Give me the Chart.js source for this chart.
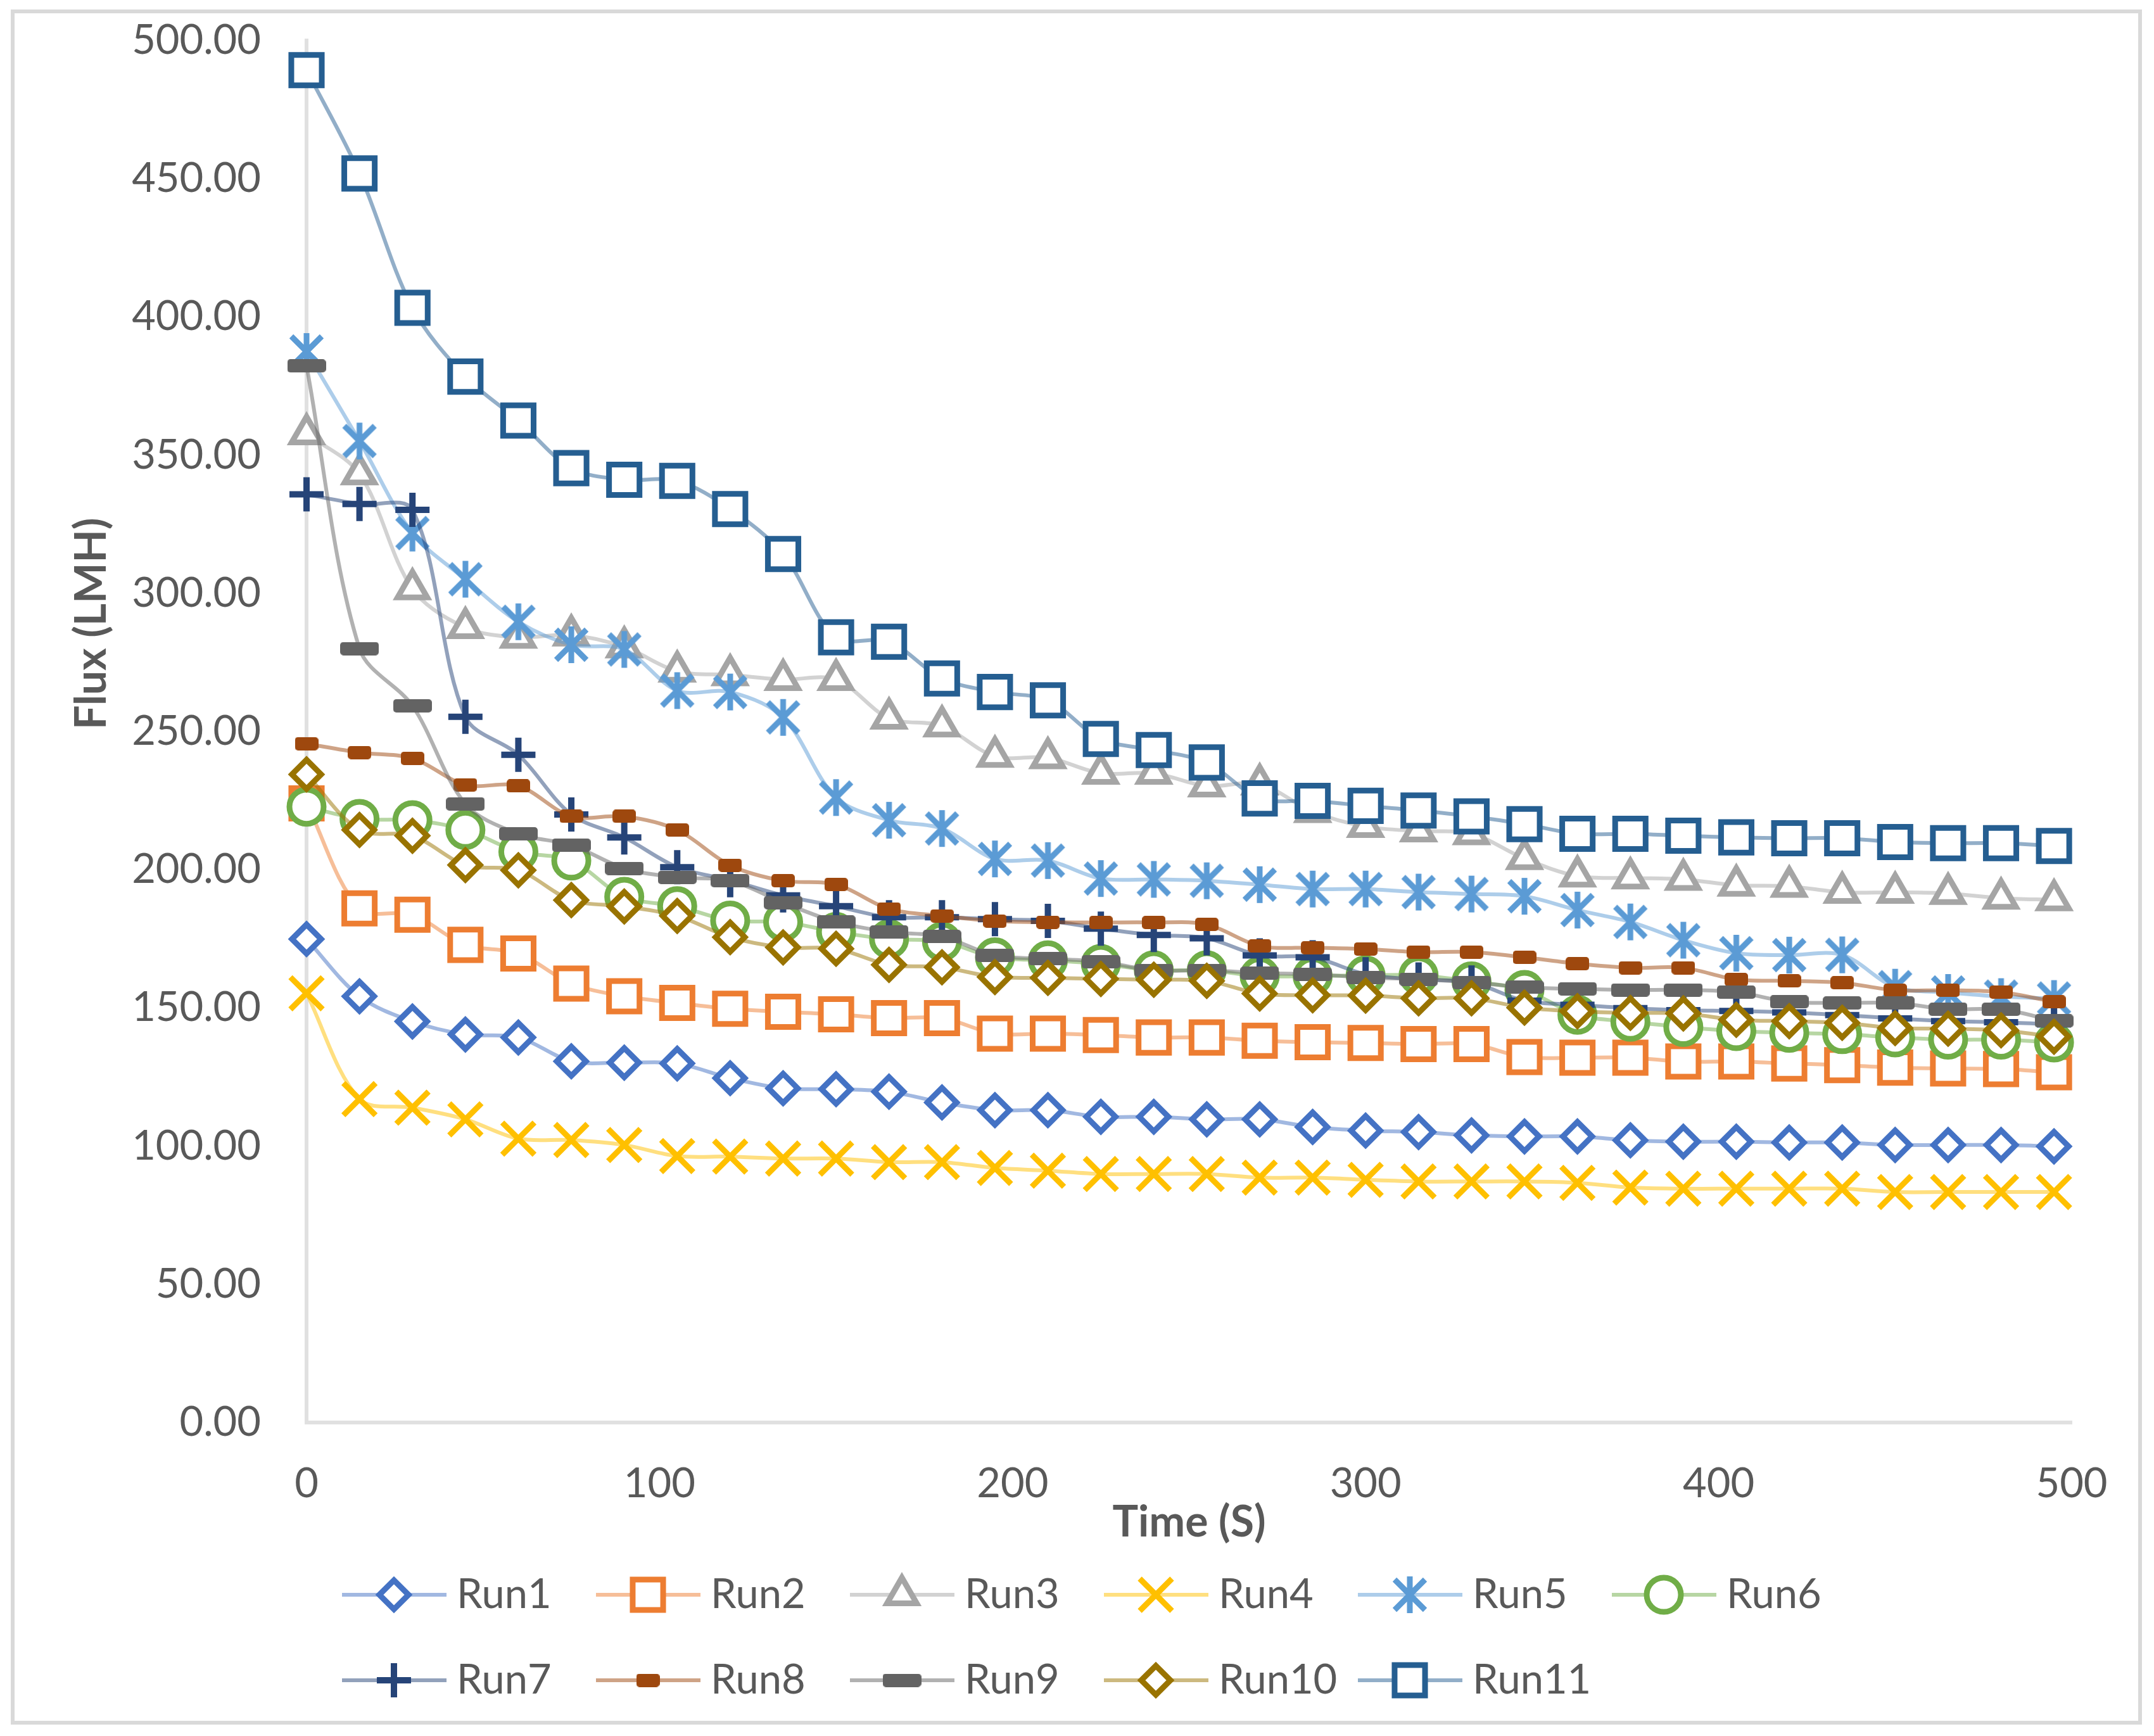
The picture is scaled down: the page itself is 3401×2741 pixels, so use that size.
<!DOCTYPE html>
<html>
<head>
<meta charset="utf-8">
<title>Flux (LMH) vs Time (S)</title>
<script src="https://cdn.jsdelivr.net/npm/chart.js"></script>
<style>
  html, body { margin: 0; padding: 0; background: #ffffff; }
  #flux-chart { display: block; }
</style>
</head>
<body>
<canvas id="flux-chart" width="3401" height="2741"></canvas>
<script>
var TIMES = [0, 15, 30, 45, 60, 75, 90, 105, 120, 135, 150, 165, 180, 195, 210, 225, 240,
             255, 270, 285, 300, 315, 330, 345, 360, 375, 390, 405, 420, 435, 450, 465, 480, 495];

var RUN_LABELS = ['Run1', 'Run2', 'Run3', 'Run4', 'Run5', 'Run6', 'Run7', 'Run8', 'Run9', 'Run10', 'Run11'];

var RUN1 = [174.9, 154.2, 145.1, 140.4, 139.3, 130.7, 130.2, 129.9, 124.6, 120.9, 120.6, 119.7, 115.8, 113.0, 113.0, 110.6, 110.6,
            109.7, 109.7, 106.9, 105.6, 105.1, 103.9, 103.5, 103.5, 102.1, 101.6, 101.6, 101.3, 101.3, 100.4, 100.4, 100.4, 99.9];
var RUN2 = [224.0, 186.0, 183.7, 172.8, 169.7, 158.8, 154.2, 151.8, 149.7, 148.6, 147.7, 146.3, 146.3, 140.7, 140.7, 140.2, 139.3,
            139.3, 138.1, 137.6, 137.3, 136.9, 136.9, 132.2, 132.0, 132.0, 130.6, 130.6, 129.9, 129.3, 128.4, 128.1, 127.9, 126.7];
var RUN3 = [357.7, 343.2, 301.6, 287.6, 284.1, 284.9, 280.6, 271.8, 270.5, 268.8, 268.8, 254.8, 252.0, 241.0, 240.5, 234.9, 234.9,
            230.3, 231.0, 221.0, 215.6, 214.0, 213.0, 204.0, 197.7, 197.0, 196.5, 194.4, 194.0, 191.8, 191.8, 191.4, 189.7, 189.1];
var RUN4 = [155.3, 117.0, 113.9, 109.7, 102.7, 102.2, 100.4, 96.4, 96.2, 95.5, 95.5, 94.2, 94.2, 92.1, 91.1, 89.9, 89.9,
            89.9, 88.6, 88.6, 87.8, 87.2, 87.2, 87.2, 86.7, 85.0, 84.6, 84.6, 84.6, 84.6, 83.4, 83.4, 83.4, 83.4];
var RUN5 = [387.5, 355.1, 321.8, 305.1, 289.7, 281.4, 279.7, 264.8, 264.3, 255.1, 226.1, 217.9, 214.9, 203.9, 203.3, 196.8, 196.5,
            196.0, 194.6, 193.0, 193.0, 191.9, 191.2, 190.4, 185.4, 181.1, 174.5, 169.8, 169.1, 169.2, 157.5, 155.6, 154.1, 153.4];
var RUN6 = [222.8, 218.4, 217.9, 214.4, 206.5, 203.3, 190.2, 186.8, 181.6, 181.1, 177.5, 174.9, 174.0, 168.3, 167.2, 165.9, 163.6,
            163.6, 161.5, 161.5, 161.8, 161.8, 159.6, 156.5, 147.5, 145.0, 143.1, 141.6, 141.0, 140.5, 139.3, 138.5, 138.5, 137.5];
var RUN7 = [335.8, 332.3, 330.2, 255.3, 241.6, 220.0, 211.7, 200.9, 196.2, 190.7, 186.8, 182.8, 182.8, 182.1, 181.5, 178.7, 176.4,
            175.2, 169.0, 168.3, 162.2, 160.3, 159.2, 152.6, 151.1, 149.9, 149.2, 148.9, 148.4, 147.4, 146.2, 145.2, 144.8, 144.0];
var RUN8 = [245.6, 242.4, 240.3, 230.7, 230.3, 219.3, 219.3, 214.4, 201.6, 196.0, 194.7, 185.8, 183.3, 181.4, 181.0, 180.9, 180.9,
            180.2, 172.4, 171.8, 171.3, 170.2, 170.2, 168.3, 166.0, 164.5, 164.5, 160.3, 159.8, 159.1, 156.4, 156.4, 155.7, 152.2];
var RUN9 = [382.3, 280.0, 259.3, 223.8, 213.0, 208.9, 200.5, 197.2, 196.0, 188.1, 181.1, 177.5, 175.8, 169.0, 167.8, 166.7, 163.6,
            163.6, 162.6, 162.2, 161.0, 160.4, 159.2, 157.5, 156.9, 156.5, 156.5, 155.7, 152.2, 151.8, 151.8, 149.5, 149.5, 145.3];
var RUN10 = [234.5, 214.4, 212.3, 201.7, 199.8, 189.0, 186.7, 183.3, 175.6, 171.9, 171.4, 165.6, 164.7, 161.2, 160.9, 160.5, 160.2,
             159.8, 155.2, 154.6, 154.5, 153.5, 153.5, 150.1, 148.8, 148.2, 148.0, 145.7, 145.2, 144.6, 142.7, 142.5, 141.9, 139.6];
var RUN11 = [489.3, 451.9, 403.3, 378.4, 362.5, 345.3, 341.1, 340.7, 330.5, 314.2, 284.1, 282.5, 269.2, 264.3, 261.3, 247.3, 243.3,
             238.8, 225.8, 224.9, 223.1, 221.4, 219.3, 216.5, 213.0, 213.0, 212.3, 211.7, 211.4, 211.4, 210.0, 209.6, 209.6, 208.6];

var RUNS = [RUN1, RUN2, RUN3, RUN4, RUN5, RUN6, RUN7, RUN8, RUN9, RUN10, RUN11];

var X_TITLE = 'Time (S)';
var Y_TITLE = 'Flux (LMH)';

// styles
var MARKER_COLORS = ['#4472C4', '#ED7D31', '#A5A5A5', '#FFC000', '#5B9BD5', '#70AD47',
                     '#264478', '#9E480E', '#636363', '#997300', '#255E91'];
var LINE_COLORS = ['rgba(68,114,196,0.5)', 'rgba(237,125,49,0.5)', 'rgba(165,165,165,0.5)', 'rgba(255,192,0,0.5)',
                   'rgba(91,155,213,0.5)', 'rgba(112,173,71,0.5)', 'rgba(38,68,120,0.5)', 'rgba(158,72,14,0.5)',
                   'rgba(99,99,99,0.5)', 'rgba(153,115,0,0.5)', 'rgba(37,94,145,0.5)'];
var TEXT_COLOR = '#595959';
var FONT = 'Lato';

function roundRectPath(g, x, y, w, h, r) {
    g.beginPath();
    g.moveTo(x + r, y);
    g.arcTo(x + w, y, x + w, y + h, r);
    g.arcTo(x + w, y + h, x, y + h, r);
    g.arcTo(x, y + h, x, y, r);
    g.arcTo(x, y, x + w, y, r);
    g.closePath();
}

function makeStar(color) {
    var c = document.createElement('canvas');
    c.width = 64;
    c.height = 64;
    var g = c.getContext('2d');
    g.strokeStyle = color;
    g.lineWidth = 9;
    g.beginPath();
    g.moveTo(8, 8); g.lineTo(56, 56);
    g.moveTo(8, 56); g.lineTo(56, 8);
    g.moveTo(32, 3); g.lineTo(32, 61);
    g.stroke();
    return c;
}

function makeDash(color, w, h) {
    var c = document.createElement('canvas');
    c.width = w;
    c.height = h;
    var g = c.getContext('2d');
    g.fillStyle = color;
    roundRectPath(g, 0, 0, w, h, 5);
    g.fill();
    return c;
}

var POINT_STYLES = ['rectRot', 'rect', 'triangle', 'crossRot', makeStar('#5B9BD5'), 'circle',
                    'cross', makeDash('#9E480E', 37, 21), makeDash('#636363', 61, 21), 'rectRot', 'rect'];
var POINT_RADII = [23, 34, 27, 36, 30, 27, 27, 18, 30, 23, 34];
var POINT_BORDERS = [9, 9, 9, 9, 0, 9, 10, 0, 0, 9, 9];

function toPoints(values) {
    return values.map(function(v, i) {
        return {x: TIMES[i], y: v};
    });
}

function buildDatasets() {
    var datasets = [];
    for (var i = 0; i < RUNS.length; i++) {
        datasets.push({
            label: RUN_LABELS[i],
            data: toPoints(RUNS[i]),
            borderColor: LINE_COLORS[i],
            borderWidth: 6,
            tension: 0.33,
            fill: false,
            clip: false,
            pointStyle: POINT_STYLES[i],
            pointRadius: POINT_RADII[i],
            pointHoverRadius: POINT_RADII[i],
            pointBorderWidth: POINT_BORDERS[i],
            pointBorderColor: MARKER_COLORS[i],
            pointBackgroundColor: '#ffffff',
            order: RUNS.length - 1 - i
        });
    }
    return datasets;
}

// frame + white background
var framePlugin = {
    id: 'frame',
    beforeDraw: function(chart) {
        var ctx = chart.ctx;
        ctx.save();
        ctx.fillStyle = '#ffffff';
        ctx.fillRect(0, 0, chart.width, chart.height);
        ctx.strokeStyle = '#d9d9d9';
        ctx.lineWidth = 6;
        ctx.strokeRect(20, 18, chart.width - 42, chart.height - 39);
        ctx.restore();
    }
};

var yTitlePlugin = {
    id: 'yTitle',
    afterDraw: function(chart) {
        var ctx = chart.ctx;
        var area = chart.chartArea;
        ctx.save();
        ctx.translate(145, area.top + (area.bottom - area.top) * 0.422);
        ctx.rotate(-Math.PI / 2);
        ctx.font = 'bold 68px ' + FONT;
        ctx.fillStyle = TEXT_COLOR;
        ctx.textAlign = 'center';
        ctx.textBaseline = 'middle';
        ctx.fillText(Y_TITLE, 0, 0);
        ctx.restore();
    }
};

// legend in fixed columns, like the spreadsheet one
var legendPlugin = {
    id: 'columnLegend',
    afterDraw: function(chart) {
        var ctx = chart.ctx;
        var left = 540, step = 401, rowTop = 2518, rowStep = 135;
        ctx.save();
        chart.data.datasets.forEach(function(ds, i) {
            var x = left + (i % 6) * step;
            var y = rowTop + Math.floor(i / 6) * rowStep;

            ctx.strokeStyle = LINE_COLORS[i];
            ctx.lineWidth = 6;
            ctx.lineCap = 'butt';
            ctx.beginPath();
            ctx.moveTo(x, y);
            ctx.lineTo(x + 165, y);
            ctx.stroke();

            ctx.strokeStyle = MARKER_COLORS[i];
            ctx.fillStyle = '#ffffff';
            ctx.lineWidth = POINT_BORDERS[i];
            Chart.helpers.drawPoint(ctx, {
                pointStyle: POINT_STYLES[i],
                radius: POINT_RADII[i],
                rotation: 0,
                borderWidth: POINT_BORDERS[i]
            }, x + 82, y);

            ctx.font = '65px ' + FONT;
            ctx.fillStyle = TEXT_COLOR;
            ctx.textAlign = 'left';
            ctx.textBaseline = 'middle';
            ctx.fillText(ds.label, x + 181, y);
        });
        ctx.restore();
    }
};

Chart.defaults.font.family = FONT;
Chart.defaults.color = TEXT_COLOR;

var chart = new Chart(document.getElementById('flux-chart'), {
    type: 'line',
    data: {
        datasets: buildDatasets()
    },
    options: {
        responsive: false,
        animation: false,
        devicePixelRatio: 1,
        layout: {
            autoPadding: false,
            padding: {left: 104, top: 64, right: 130, bottom: 281}
        },
        plugins: {
            legend: {display: false},
            tooltip: {enabled: false}
        },
        scales: {
            x: {
                type: 'linear',
                min: 0,
                max: 500,
                grid: {display: false, drawTicks: false},
                border: {display: true, color: '#e0e0e0', width: 6},
                ticks: {
                    stepSize: 100,
                    padding: 58,
                    font: {size: 65},
                    color: TEXT_COLOR
                },
                title: {
                    display: true,
                    text: X_TITLE,
                    font: {size: 68, weight: 'bold'},
                    color: TEXT_COLOR,
                    padding: {top: 0, bottom: 15}
                },
                afterFit: function(scale) {
                    scale.height = 214;
                    scale.paddingLeft = 0;
                    scale.paddingRight = 0;
                }
            },
            y: {
                min: 0,
                max: 500,
                grid: {display: false, drawTicks: false},
                border: {display: true, color: '#e0e0e0', width: 6},
                ticks: {
                    stepSize: 50,
                    padding: 72,
                    font: {size: 65},
                    color: TEXT_COLOR,
                    callback: function(value) {
                        return value.toFixed(2);
                    }
                },
                afterFit: function(scale) {
                    scale.width = 380;
                    scale.paddingTop = 0;
                    scale.paddingBottom = 0;
                }
            }
        }
    },
    plugins: [framePlugin, yTitlePlugin, legendPlugin]
});
</script>
</body>
</html>
